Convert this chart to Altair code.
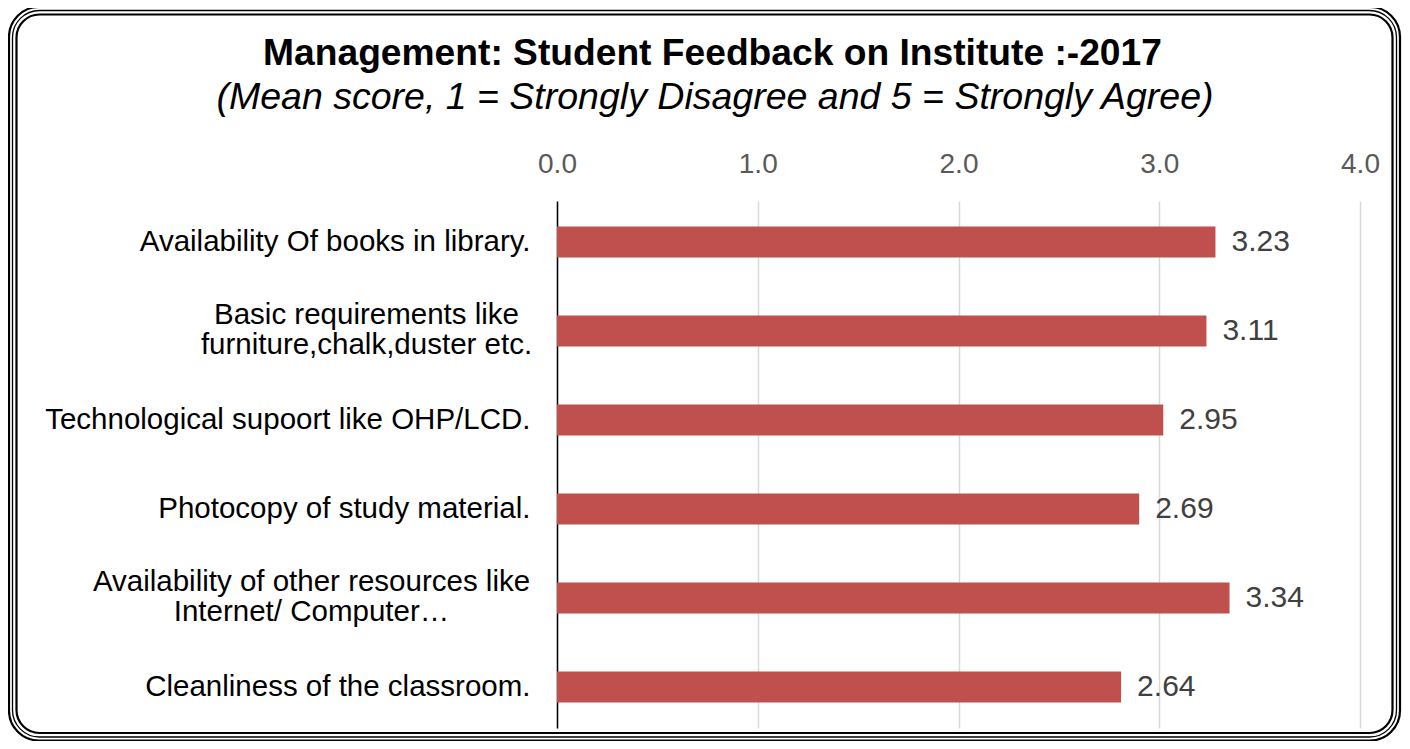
import altair as alt
import pandas as pd

categories = [
    "Availability Of books in library.",
    "Basic requirements like\nfurniture,chalk,duster etc.",
    "Technological supoort like OHP/LCD.",
    "Photocopy of study material.",
    "Availability of other resources like\nInternet/ Computer…",
    "Cleanliness of the classroom.",
]
bar_values = [3.28, 3.235, 3.02, 2.90, 3.35, 2.81]
value_labels = ["3.23", "3.11", "2.95", "2.69", "3.34", "2.64"]
x_ticks = [0, 1, 2, 3, 4]

title_text = "Management: Student Feedback on Institute :-2017"
subtitle_text = "(Mean score, 1 = Strongly Disagree and 5 = Strongly Agree)"

FONT = "Liberation Sans"

df = pd.DataFrame({"cat": categories, "val": bar_values, "lab": value_labels})
one = pd.DataFrame({"a": [0]})

multi = "indexof(datum.value, '\\n') >= 0"

y_enc = alt.Y(
    "cat:N",
    sort=categories,
    scale=alt.Scale(paddingInner=0.65, paddingOuter=0.2856),
    axis=alt.Axis(
        title=None,
        orient="left",
        domain=True,
        domainColor="#000000",
        domainWidth=1.5,
        ticks=False,
        grid=False,
        labelFontSize=29.5,
        labelFont=FONT,
        labelColor="#000000",
        labelLimit=0,
        labelLineHeight=30,
        labelExpr="split(datum.label, '\\n')",
        labelAlign={"condition": {"test": multi, "value": "center"}, "value": "right"},
        labelOffset={"condition": {"test": multi, "value": -16}, "value": 0},
        labelPadding={
            "condition": [
                {"test": "indexof(datum.value, 'Basic') == 0", "value": 191},
                {"test": "indexof(datum.value, 'Availability of other') == 0", "value": 246},
            ],
            "value": 27,
        },
    ),
)
x_enc = alt.X(
    "val:Q",
    scale=alt.Scale(domain=[0, 4], nice=False),
    axis=alt.Axis(
        title=None,
        orient="top",
        values=x_ticks,
        format=".1f",
        domain=False,
        ticks=False,
        grid=True,
        gridColor="#d9d9d9",
        gridWidth=1.5,
        labelFontSize=28,
        labelFont=FONT,
        labelColor="#595959",
        labelPadding=23,
        labelFlush=False,
    ),
)

bars = alt.Chart(df).mark_bar(color="#C0504D").encode(x=x_enc, y=y_enc)
texts = alt.Chart(df).mark_text(
    align="left", baseline="middle", dx=16, fontSize=30, font=FONT, color="#404040"
).encode(x="val:Q", y=alt.Y("cat:N", sort=categories), text="lab:N")

title = alt.Chart(one).mark_text(
    text=title_text, fontSize=37.2, fontWeight="bold", font=FONT, color="#000000",
    align="center", baseline="alphabetic",
).encode(x=alt.value(155.5), y=alt.value(-136))
subtitle = alt.Chart(one).mark_text(
    text=subtitle_text, fontSize=37.5, fontStyle="italic", font=FONT, color="#000000",
    align="center", baseline="alphabetic",
).encode(x=alt.value(158), y=alt.value(-92))

def frame(x1, x2, y1, y2, sw, r):
    return alt.Chart(one).mark_rect(
        fill=None, filled=False, stroke="#000000", strokeWidth=sw, cornerRadius=r
    ).encode(x=alt.value(x1), x2=alt.value(x2), y=alt.value(y1), y2=alt.value(y2))

frames = [
    frame(-548, 843, -194, 539.5, 2.2, 30),
    frame(-544.5, 839.5, -190.5, 536, 1.3, 27),
    frame(-540.5, 835.5, -186.5, 532, 2.2, 23),
]

chart = alt.layer(bars, texts, title, subtitle, *frames).properties(
    width=803,
    height=527,
    autosize=alt.AutoSizeParams(type="none"),
    padding={"left": 549, "top": 193, "right": 42, "bottom": 13},
    background="#ffffff",
).configure_view(stroke=None)

chart.save("out.html", embed_options={"renderer": "svg", "actions": False})
